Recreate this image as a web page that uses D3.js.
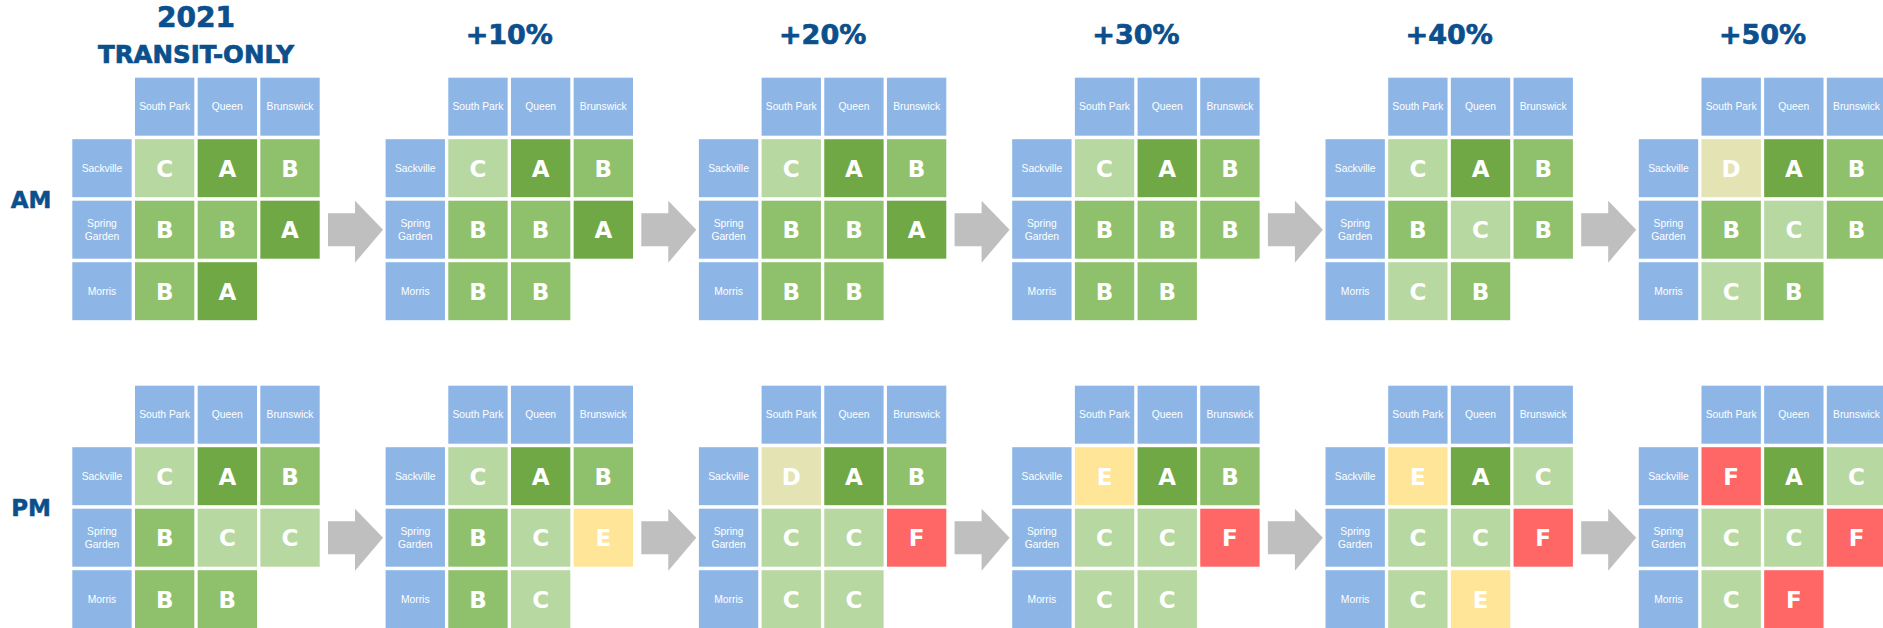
<!DOCTYPE html>
<html>
<head>
  <meta charset="utf-8">
  <script src="https://d3js.org/d3.v7.min.js"></script>
  <style>
    html, body { margin: 0; padding: 0; background: #fff; }
    svg { display: block; }
  </style>
</head>
<body>
  <div id="chart"></div>

  <script>
    // scenario titles (first one is on two lines)
    const scenarios = [['2021', 'TRANSIT-ONLY'], ['+10%'], ['+20%'], ['+30%'], ['+40%'], ['+50%']];
    const periods = ['AM', 'PM'];
    const colStreets = ['South Park', 'Queen', 'Brunswick'];
    const rowStreets = ['Sackville', 'Spring Garden', 'Morris'];
    const grades = ['A', 'B', 'C', 'D', 'E', 'F'];
    const gradeColors = ['#70a845', '#8fc16c', '#b8d8a2', '#e3e3b4', '#ffe597', '#ff6666'];

    // level of service per scenario: rows Sackville / Spring Garden / Morris
    const amLOS = [
      [['C', 'A', 'B'], ['B', 'B', 'A'], ['B', 'A']],
      [['C', 'A', 'B'], ['B', 'B', 'A'], ['B', 'B']],
      [['C', 'A', 'B'], ['B', 'B', 'A'], ['B', 'B']],
      [['C', 'A', 'B'], ['B', 'B', 'B'], ['B', 'B']],
      [['C', 'A', 'B'], ['B', 'C', 'B'], ['C', 'B']],
      [['D', 'A', 'B'], ['B', 'C', 'B'], ['C', 'B']]
    ];
    const pmLOS = [
      [['C', 'A', 'B'], ['B', 'C', 'C'], ['B', 'B']],
      [['C', 'A', 'B'], ['B', 'C', 'E'], ['B', 'C']],
      [['D', 'A', 'B'], ['C', 'C', 'F'], ['C', 'C']],
      [['E', 'A', 'B'], ['C', 'C', 'F'], ['C', 'C']],
      [['E', 'A', 'C'], ['C', 'C', 'F'], ['C', 'E']],
      [['F', 'A', 'C'], ['C', 'C', 'F'], ['C', 'F']]
    ];

    const width = 1883, height = 628;
    const titleColor = '#0b4f8c';
    const headerColor = '#8db6e6';

    const svg = d3.select('#chart')
      .append('svg')
      .attr('width', width)
      .attr('height', height);

    // panels across, periods down
    const panelX = d3.scaleBand()
      .domain(d3.range(scenarios.length))
      .range([72.3, 72.3 + 313.3 * scenarios.length]);

    const periodY = d3.scaleBand()
      .domain(periods)
      .range([77.7, 77.7 + 308 * periods.length]);

    // cells inside a panel
    const cellX = d3.scaleBand()
      .domain(['label', ...colStreets])
      .range([0, 247.4])
      .paddingInner(0.053);

    const cellY = d3.scaleBand()
      .domain(['header', ...rowStreets])
      .range([0, 242.5])
      .paddingInner(0.057);

    const color = d3.scaleOrdinal().domain(grades).range(gradeColors);

    const losByPeriod = { AM: amLOS, PM: pmLOS };

    // titles
    scenarios.forEach((lines, i) => {
      const cx = panelX(i) + (cellX.range()[1]) / 2;
      const t = svg.append('text')
        .attr('text-anchor', 'middle')
        .attr('fill', titleColor)
        .attr('stroke', titleColor)
        .attr('stroke-width', 0.7)
        .style('font-family', 'DejaVu Sans')
        .style('font-weight', 'bold');
      if (lines.length === 2) {
        t.append('tspan').attr('x', cx).attr('y', 27).style('font-size', '28px').text(lines[0]);
        t.append('tspan').attr('x', cx).attr('y', 63.3).style('font-size', '24.5px').text(lines[1]);
      } else {
        t.attr('x', cx).attr('y', 44).style('font-size', '27px').text(lines[0]);
      }
    });

    // period labels
    svg.selectAll('.period')
      .data(periods)
      .join('text')
      .attr('class', 'period')
      .attr('x', 31)
      .attr('y', d => periodY(d) + cellY('Spring Garden') + 7.5)
      .attr('text-anchor', 'middle')
      .attr('fill', titleColor)
      .attr('stroke', titleColor)
      .attr('stroke-width', 0.5)
      .style('font-family', 'DejaVu Sans')
      .style('font-weight', 'bold')
      .style('font-size', '23px')
      .text(d => d);

    periods.forEach(period => {
      scenarios.forEach((s, i) => {
        const g = svg.append('g')
          .attr('transform', `translate(${panelX(i)}, ${periodY(period)})`);

        // column headers
        const heads = g.selectAll('.col-head')
          .data(colStreets)
          .join('g')
          .attr('class', 'col-head')
          .attr('transform', d => `translate(${cellX(d)}, ${cellY('header')})`);
        heads.append('rect')
          .attr('width', cellX.bandwidth())
          .attr('height', cellY.bandwidth())
          .attr('fill', headerColor);
        heads.append('text')
          .attr('x', cellX.bandwidth() / 2)
          .attr('y', cellY.bandwidth() / 2 + 3.6)
          .attr('text-anchor', 'middle')
          .attr('fill', '#fff')
          .style('font-family', 'Liberation Sans')
          .style('font-size', '10.3px')
          .text(d => d);

        // row headers
        const rows = g.selectAll('.row-head')
          .data(rowStreets)
          .join('g')
          .attr('class', 'row-head')
          .attr('transform', d => `translate(${cellX('label')}, ${cellY(d)})`);
        rows.append('rect')
          .attr('width', cellX.bandwidth())
          .attr('height', cellY.bandwidth())
          .attr('fill', headerColor);
        rows.append('text')
          .attr('text-anchor', 'middle')
          .attr('fill', '#fff')
          .style('font-family', 'Liberation Sans')
          .style('font-size', '10.3px')
          .each(function (d) {
            const words = d.split(' ');
            const t = d3.select(this);
            words.forEach((w, k) => {
              t.append('tspan')
                .attr('x', cellX.bandwidth() / 2)
                .attr('y', cellY.bandwidth() / 2 + 3.6 + (k - (words.length - 1) / 2) * 12.7)
                .text(w);
            });
          });

        // level of service cells
        const cells = [];
        losByPeriod[period][i].forEach((row, r) => {
          row.forEach((grade, c) => cells.push({ row: rowStreets[r], col: colStreets[c], grade }));
        });

        const cg = g.selectAll('.los')
          .data(cells)
          .join('g')
          .attr('class', 'los')
          .attr('transform', d => `translate(${cellX(d.col)}, ${cellY(d.row)})`);
        cg.append('rect')
          .attr('width', cellX.bandwidth())
          .attr('height', cellY.bandwidth())
          .attr('fill', d => color(d.grade));
        cg.append('text')
          .attr('x', cellX.bandwidth() / 2)
          .attr('y', cellY.bandwidth() / 2 + 8.5)
          .attr('text-anchor', 'middle')
          .attr('fill', '#fff')
          .style('font-family', 'DejaVu Sans')
          .style('font-weight', 'bold')
          .style('font-size', '23px')
          .text(d => d.grade);

        // arrow to the next scenario
        if (i < scenarios.length - 1) {
          const ax = cellX.range()[1] + 8.3;
          const ay = cellY('Spring Garden') + cellY.bandwidth() / 2;
          g.append('path')
            .attr('d', `M${ax},${ay - 16.5} L${ax + 27},${ay - 16.5} L${ax + 27},${ay - 29}
              L${ax + 55},${ay} L${ax + 27},${ay + 33} L${ax + 27},${ay + 16.5} L${ax},${ay + 16.5} Z`)
            .attr('fill', '#bfbfbf');
        }
      });
    });
  </script>
</body>
</html>
